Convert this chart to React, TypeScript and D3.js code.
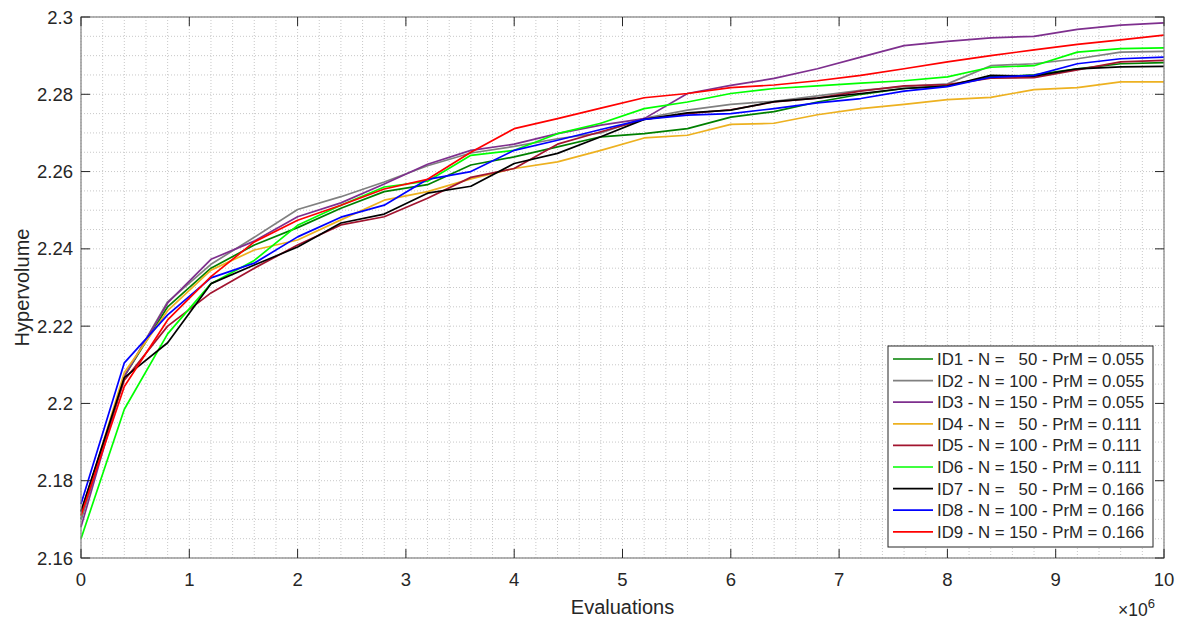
import React from "react";
import * as d3 from "d3";

const evaluations = [0, 0.4, 0.8, 1.2, 1.6, 2.0, 2.4, 2.8, 3.2, 3.6, 4.0, 4.4, 4.8, 5.2, 5.6, 6.0, 6.4, 6.8, 7.2, 7.6, 8.0, 8.4, 8.8, 9.2, 9.6, 10.0];

const id1 = [2.170, 2.207, 2.225, 2.235, 2.241, 2.2455, 2.2505, 2.2548, 2.2566, 2.2617, 2.2638, 2.2664, 2.269, 2.2698, 2.2711, 2.2741, 2.2755, 2.278, 2.280, 2.2815, 2.2822, 2.2845, 2.285, 2.2866, 2.2879, 2.2882];
const id2 = [2.170, 2.207, 2.2263, 2.236, 2.243, 2.2502, 2.2535, 2.2573, 2.2615, 2.2648, 2.2665, 2.2685, 2.270, 2.2738, 2.2759, 2.2774, 2.2782, 2.2796, 2.281, 2.282, 2.2827, 2.2874, 2.2879, 2.2892, 2.2909, 2.2911];
const id3 = [2.168, 2.207, 2.226, 2.2373, 2.242, 2.2483, 2.2519, 2.2568, 2.2619, 2.2655, 2.2671, 2.2698, 2.272, 2.2737, 2.2802, 2.2823, 2.2841, 2.2866, 2.2896, 2.2926, 2.2937, 2.2946, 2.295, 2.2968, 2.2979, 2.2985];
const id4 = [2.171, 2.208, 2.224, 2.2345, 2.2397, 2.2423, 2.2475, 2.2526, 2.2548, 2.2581, 2.2608, 2.2625, 2.2655, 2.2687, 2.2694, 2.2722, 2.2725, 2.2747, 2.2763, 2.2774, 2.2786, 2.2792, 2.2812, 2.2817, 2.2832, 2.2832];
const id5 = [2.172, 2.206, 2.220, 2.2286, 2.235, 2.241, 2.2462, 2.2483, 2.2531, 2.2585, 2.2608, 2.2671, 2.2703, 2.2735, 2.275, 2.276, 2.278, 2.279, 2.2808, 2.2822, 2.2825, 2.2842, 2.2843, 2.2863, 2.2884, 2.2888];
const id6 = [2.165, 2.1985, 2.218, 2.231, 2.237, 2.2461, 2.2513, 2.256, 2.2575, 2.2642, 2.2655, 2.2698, 2.2725, 2.2763, 2.278, 2.2802, 2.2815, 2.2822, 2.2829, 2.2835, 2.2845, 2.287, 2.2874, 2.2909, 2.2918, 2.292];
const id7 = [2.172, 2.2067, 2.2157, 2.231, 2.2358, 2.2405, 2.2467, 2.249, 2.2544, 2.2562, 2.2621, 2.2647, 2.269, 2.2735, 2.2752, 2.2759, 2.2781, 2.279, 2.2802, 2.2815, 2.2821, 2.2849, 2.2847, 2.2866, 2.2871, 2.2872];
const id8 = [2.174, 2.2105, 2.2229, 2.2325, 2.2363, 2.2431, 2.2482, 2.2513, 2.258, 2.26, 2.2655, 2.2681, 2.2709, 2.2735, 2.2746, 2.275, 2.2763, 2.2778, 2.2789, 2.2808, 2.282, 2.2844, 2.2849, 2.2879, 2.2892, 2.2896];
const id9 = [2.171, 2.2044, 2.2216, 2.2328, 2.2418, 2.2474, 2.2513, 2.2555, 2.258, 2.265, 2.2711, 2.2737, 2.2764, 2.2791, 2.2802, 2.2817, 2.2824, 2.2835, 2.2849, 2.2866, 2.2884, 2.29, 2.2915, 2.2929, 2.2941, 2.2953];

const seriesNames = [
  "ID1 - N =   50 - PrM = 0.055",
  "ID2 - N = 100 - PrM = 0.055",
  "ID3 - N = 150 - PrM = 0.055",
  "ID4 - N =   50 - PrM = 0.111",
  "ID5 - N = 100 - PrM = 0.111",
  "ID6 - N = 150 - PrM = 0.111",
  "ID7 - N =   50 - PrM = 0.166",
  "ID8 - N = 100 - PrM = 0.166",
  "ID9 - N = 150 - PrM = 0.166",
];
const seriesValues = [id1, id2, id3, id4, id5, id6, id7, id8, id9];
const seriesColors = ["#008000", "#808080", "#7E2F8E", "#EDB120", "#A2142F", "#00FF00", "#000000", "#0000FF", "#FF0000"];

const xTicks = [0, 1, 2, 3, 4, 5, 6, 7, 8, 9, 10];
const yTicks = [2.16, 2.18, 2.2, 2.22, 2.24, 2.26, 2.28, 2.3];

const W = 1184, H = 621;
const L = 81, R = 1164, T = 17, B = 558;
const FONT = "'Liberation Sans', Arial, Helvetica, sans-serif";

export default function App() {
  const x = d3.scaleLinear().domain([0, 10]).range([L, R]);
  const y = d3.scaleLinear().domain([2.16, 2.3]).range([B, T]);
  const line = d3.line<[number, number]>().x(d => x(d[0])).y(d => y(d[1]));

  const xMinor = d3.range(0, 10.0001, 0.2);
  const yMinor = d3.range(2.16, 2.30001, 0.005);

  const legX = 888, legY = 346, legW = 265, legH = 201, rowH = 21.6;

  return (
    <svg width={W} height={H} style={{ position: "absolute", left: 0, top: 0, background: "#fff" }} fontFamily={FONT}>
      <rect x={0} y={0} width={W} height={H} fill="#fff" />
      {/* grid */}
      <g stroke="#c8c8c8" strokeWidth={1} strokeDasharray="1,2">
        {xMinor.map((v, i) => (
          <line key={"xm" + i} x1={x(v)} x2={x(v)} y1={T} y2={B} />
        ))}
        {yMinor.map((v, i) => (
          <line key={"ym" + i} x1={L} x2={R} y1={y(v)} y2={y(v)} />
        ))}
      </g>
      {/* series */}
      <g fill="none" strokeWidth={1.7} strokeLinejoin="round">
        {seriesValues.map((vals, i) => (
          <path key={i} d={line(vals.map((v, j) => [evaluations[j], v] as [number, number])) || ""} stroke={seriesColors[i]} />
        ))}
      </g>
      {/* box */}
      <rect x={L} y={T} width={R - L} height={B - T} fill="none" stroke="#808080" strokeWidth={1.2} />
      {/* ticks */}
      <g stroke="#262626" strokeWidth={1}>
        {xTicks.map((v, i) => (
          <g key={"xt" + i}>
            <line x1={x(v)} x2={x(v)} y1={B} y2={B - 9} />
            <line x1={x(v)} x2={x(v)} y1={T} y2={T + 9} />
          </g>
        ))}
        {yTicks.map((v, i) => (
          <g key={"yt" + i}>
            <line x1={L} x2={L + 9} y1={y(v)} y2={y(v)} />
            <line x1={R} x2={R - 9} y1={y(v)} y2={y(v)} />
          </g>
        ))}
      </g>
      <g fill="#262626" fontSize={18.5}>
        {xTicks.map((v, i) => (
          <text key={"xl" + i} x={x(v)} y={585.5} textAnchor="middle">{v}</text>
        ))}
        {yTicks.map((v, i) => (
          <text key={"yl" + i} x={73} y={y(v) + 6.5} textAnchor="end">{d3.format("~g")(v)}</text>
        ))}
      </g>
      <text x={(L + R) / 2} y={613.5} textAnchor="middle" fontSize={20} fill="#262626">Evaluations</text>
      <text transform={`translate(29,${(T + B) / 2}) rotate(-90)`} textAnchor="middle" fontSize={20} fill="#262626">Hypervolume</text>
      <text x={1118} y={616} fontSize={17.5} fill="#262626">×10<tspan dy={-8} fontSize={13}>6</tspan></text>
      {/* legend */}
      <rect x={legX} y={legY} width={legW} height={legH} fill="#fff" stroke="#262626" strokeWidth={1} />
      {seriesNames.map((n, i) => {
        const cy = legY + 13 + i * rowH;
        return (
          <g key={"lg" + i}>
            <line x1={893} x2={933} y1={cy} y2={cy} stroke={seriesColors[i]} strokeWidth={1.7} />
            <text x={937} y={cy + 6} fontSize={16.8} fill="#262626" style={{ whiteSpace: "pre" }}>{n}</text>
          </g>
        );
      })}
    </svg>
  );
}
